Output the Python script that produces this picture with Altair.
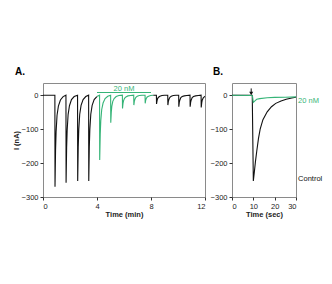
import altair as alt
import pandas as pd

GREEN = "#35b477"
BLACK = "#111111"
FONT = "Liberation Sans"

# Panel A: trace segments (time in min, current in nA)
a_black1_t = [0.0, 0.88, 0.89, 0.93, 0.97, 1.04, 1.14, 1.29, 1.49, 1.70,
              1.71, 1.75, 1.79, 1.86, 1.96, 2.11, 2.31, 2.56,
              2.57, 2.61, 2.65, 2.72, 2.82, 2.97, 3.17, 3.38,
              3.39, 3.43, 3.47, 3.54, 3.64, 3.79, 3.99]
a_black1_y = [0, 0, -270, -162, -108, -59, -32, -14, -4, 0,
              -258, -155, -103, -57, -31, -13, -4, 0,
              -253, -152, -101, -56, -30, -13, -4, 0,
              -253, -152, -101, -56, -30, -13, -4]

a_green_t = [3.99, 4.19, 4.20, 4.24, 4.28, 4.35, 4.45, 4.60, 4.80, 5.01,
             5.02, 5.06, 5.10, 5.17, 5.27, 5.42, 5.62, 5.88,
             5.89, 5.93, 5.97, 6.04, 6.14, 6.29, 6.49, 6.72,
             6.73, 6.77, 6.81, 6.88, 6.98, 7.13, 7.33, 7.56,
             7.57, 7.61, 7.65, 7.72, 7.82, 7.97, 8.17]
a_green_y = [-4, 0, -191, -115, -76, -42, -23, -10, -3, 0,
             -81, -49, -32, -18, -10, -4, -1, 0,
             -39, -23, -16, -9, -5, -2, -1, 0,
             -29, -17, -12, -6, -3, -1, 0, 0,
             -24, -14, -10, -5, -3, -1, 0]

a_black2_t = [8.17, 8.40, 8.41, 8.45, 8.49, 8.56, 8.66, 8.81, 9.01, 9.24,
              9.25, 9.29, 9.33, 9.40, 9.50, 9.65, 9.85, 10.05,
              10.06, 10.10, 10.14, 10.21, 10.31, 10.46, 10.66, 10.89,
              10.90, 10.94, 10.98, 11.05, 11.15, 11.30, 11.50, 11.71,
              11.72, 11.76, 11.80, 11.87, 11.97, 12.0]
a_black2_y = [0, 0, -26, -16, -10, -6, -3, -1, 0, 0,
              -29, -17, -12, -6, -3, -1, 0, 0,
              -34, -20, -14, -7, -4, -2, -1, 0,
              -34, -20, -14, -7, -4, -2, -1, 0,
              -36, -22, -14, -8, -4, -3]

bar_x = [4, 8]
bar_y = [8, 8]

# Panel B: single responses (time in sec, current in nA)
b_ctrl_t = [0, 9.4, 9.5, 10.0, 10.5, 11.0, 11.6, 12.4, 13.2, 14.5, 16.5, 18.5,
            20.5, 23.0, 25.4, 28.0, 30.0]
b_ctrl_y = [0, 0, -2, -253, -225, -195, -165, -128, -100, -72, -49, -34,
            -24, -17, -12, -8, -6]
b_20_t = [0, 9.4, 9.6, 10.0, 10.5, 11.0, 11.6, 13.0, 16.5, 20.0, 25.0, 30.0]
b_20_y = [0, -1, -3, -21, -18, -15, -12, -10, -7.5, -6.5, -6, -5]

y_ticks = [0, -100, -200, -300]
a_x_ticks = [0, 4, 8, 12]
b_x_ticks = [0, 10, 20, 30]
Y_DOMAIN = [-300, 36]


def enc_x(field, dom, ticks, title):
    return alt.X(field, scale=alt.Scale(domain=dom, nice=False),
                 axis=alt.Axis(values=ticks, title=title, grid=False, labelOverlap=False))


def enc_y(field, title):
    return alt.Y(field, scale=alt.Scale(domain=Y_DOMAIN, nice=False),
                 axis=alt.Axis(values=y_ticks, title=title, grid=False, labelOverlap=False))


def line(t, y, color, xname, xdom, xticks, ytitle):
    df = pd.DataFrame({"t": t, "y": y, "o": list(range(len(t)))})
    return alt.Chart(df).mark_line(color=color, strokeWidth=1.1, clip=True).encode(
        x=enc_x("t:Q", xdom, xticks, xname),
        y=enc_y("y:Q", ytitle),
        order="o:Q",
    )


AX = ("Time (min)", [0, 12], a_x_ticks)
BX = ("Time (sec)", [0, 30], b_x_ticks)

A1 = line(a_black1_t, a_black1_y, BLACK, *AX, "I (nA)")
A2 = line(a_green_t, a_green_y, GREEN, *AX, "I (nA)")
A3 = line(a_black2_t, a_black2_y, BLACK, *AX, "I (nA)")
bar_df = pd.DataFrame({"x": [bar_x[0]], "x2": [bar_x[1]], "y": [bar_y[0]]})
A_bar = alt.Chart(bar_df).mark_rule(color=GREEN, strokeWidth=1.2).encode(
    x=enc_x("x:Q", AX[1], AX[2], AX[0]), x2="x2:Q", y=enc_y("y:Q", "I (nA)"))
A_lab = alt.Chart(pd.DataFrame({"x": [6], "y": [19], "s": ["20 nM"]})).mark_text(
    color=GREEN, fontSize=7.5, font=FONT).encode(
    x=enc_x("x:Q", AX[1], AX[2], AX[0]), y=enc_y("y:Q", "I (nA)"), text="s:N")

panelA = alt.layer(A1, A2, A3, A_bar, A_lab).properties(
    width=162, height=114,
    title=alt.TitleParams("A.", anchor="start", frame="bounds", fontSize=10,
                          font=FONT, fontWeight="bold", offset=6, dx=3),
)

B1 = line(b_ctrl_t, b_ctrl_y, BLACK, *BX, None)
B2 = line(b_20_t, b_20_y, GREEN, *BX, None)
arrow_df = pd.DataFrame({"x": [9.0], "y": [20], "y2": [5]})
B_arrow = alt.Chart(arrow_df).mark_rule(color=BLACK, strokeWidth=1).encode(
    x=enc_x("x:Q", BX[1], BX[2], BX[0]), y=enc_y("y:Q", None), y2="y2:Q")
B_head = alt.Chart(pd.DataFrame({"x": [9.0], "y": [5]})).mark_point(
    shape="triangle-down", filled=True, color=BLACK, size=16, opacity=1).encode(
    x=enc_x("x:Q", BX[1], BX[2], BX[0]), y=enc_y("y:Q", None))
B_lab1 = alt.Chart(pd.DataFrame({"x": [30.5], "y": [-18], "s": ["20 nM"]})).mark_text(
    align="left", fontSize=7.5, font=FONT, dx=1, color=GREEN).encode(
    x=enc_x("x:Q", BX[1], BX[2], BX[0]), y=enc_y("y:Q", None), text="s:N")
B_lab2 = alt.Chart(pd.DataFrame({"x": [30.5], "y": [-248], "s": ["Control"]})).mark_text(
    align="left", fontSize=7.5, font=FONT, dx=1, color=BLACK).encode(
    x=enc_x("x:Q", BX[1], BX[2], BX[0]), y=enc_y("y:Q", None), text="s:N")

panelB = alt.layer(B1, B2, B_arrow, B_head, B_lab1, B_lab2).properties(
    width=64, height=114,
    title=alt.TitleParams("B.", anchor="start", frame="bounds", fontSize=10,
                          font=FONT, fontWeight="bold", offset=6, dx=3),
)

chart = alt.hconcat(panelA, panelB, spacing=3).properties(
    padding={"left": 11, "top": 66, "right": 5, "bottom": 5},
    background="white",
).configure_view(stroke="#8a8a8a", strokeWidth=1).configure_axis(
    domain=False, tickColor="#333333", tickSize=3, labelFontSize=7.5, labelFont=FONT,
    labelColor="#222222", titleFont=FONT, titleFontSize=7.5, titleFontWeight="bold",
    titleColor="#222222", labelPadding=2, titlePadding=1,
)

chart.save("out.html", embed_options={"renderer": "svg", "actions": False})
